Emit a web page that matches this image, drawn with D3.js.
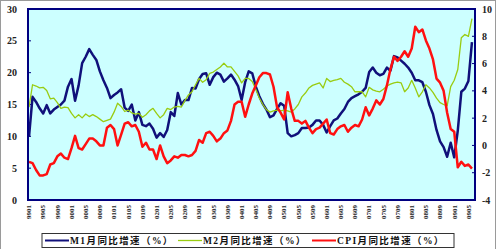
<!DOCTYPE html>
<html>
<head>
<meta charset="utf-8">
<script src="https://cdn.jsdelivr.net/npm/d3@7"></script>
<style>
  body { margin: 0; background: #fff; }
  svg { display: block; }
  .tick-l, .tick-r { font: bold 10px "Liberation Serif", "Times New Roman", serif; fill: #222; }
  .tick-x { font: bold 7px "Liberation Serif", "Times New Roman", serif; fill: #222; }
  .legend-text { font: bold 9.5px "Liberation Serif", "Noto Sans CJK SC", serif; fill: #111; letter-spacing: 1.4px; }
</style>
</head>
<body>
<svg width="500" height="249"></svg>
<script>
// M1 / M2 yoy growth (%), left axis; CPI yoy (%), right axis. 1999-01 .. 2009-06
const m1 = [
  9.9, 16.2, 15.4, 14.4, 13.6, 14.9, 13.6, 14.2, 14.6, 15.0, 15.6, 17.8,
  19.0, 15.6, 18.0, 21.5, 22.5, 23.7, 22.8, 22.0, 20.2, 18.8, 17.6, 16.0,
  16.5, 16.9, 17.4, 14.5, 14.0, 15.0, 12.5, 13.8, 11.8, 11.6, 12.0, 11.2,
  9.8, 10.5, 9.9, 11.0, 13.8, 13.2, 16.8, 15.0, 15.7, 15.7, 17.6, 17.5,
  19.0, 19.8, 19.9, 18.1, 19.3, 20.0, 19.7, 18.6, 19.1, 19.7, 18.9, 17.9,
  15.7, 18.5, 20.2, 19.9, 17.8, 16.3, 15.1, 14.2, 13.0, 13.3, 14.3, 15.2,
  14.8, 10.5, 10.0, 10.2, 10.5, 11.3, 11.3, 11.4, 11.8, 12.5, 12.5, 11.8,
  10.6, 11.6, 12.5, 12.8, 13.6, 14.3, 15.4, 16.0, 16.3, 16.6, 17.0, 17.6,
  20.1, 20.8, 20.0, 19.6, 19.8, 20.8, 20.3, 22.6, 22.4, 21.9, 21.4, 20.8,
  20.0, 18.8, 18.8, 18.5, 17.0, 14.9, 13.5, 11.0, 9.2, 8.3, 6.8, 9.0,
  6.7, 10.9, 17.0, 17.5, 18.7, 24.8
];
const m2 = [
  14.6, 18.1, 17.9, 17.6, 17.7, 17.2, 15.9, 16.0, 15.3, 14.4, 14.6, 14.5,
  13.6, 12.9, 13.4, 12.9, 13.5, 13.1, 13.4, 13.1, 12.7, 12.3, 12.5, 12.7,
  13.8, 15.2, 14.7, 13.9, 14.1, 13.7, 13.5, 13.6, 13.0, 13.4, 14.0, 14.4,
  13.6, 12.9, 13.4, 14.4, 14.2, 14.6, 14.7, 14.6, 15.6, 16.5, 17.0, 18.1,
  19.1, 18.5, 18.9, 19.9, 20.1, 20.5, 20.9, 21.5, 20.9, 20.9, 20.2, 19.5,
  18.4, 19.1, 19.1, 18.6, 17.4, 16.0, 15.0, 14.2, 13.8, 14.0, 14.1, 14.0,
  14.1, 14.0, 13.8, 14.3, 15.0, 16.2, 16.8, 17.6, 18.0, 18.2, 18.4, 17.6,
  19.1, 18.6, 18.8, 18.9, 19.1, 18.5, 18.2, 17.8, 17.0, 17.0, 17.0, 16.2,
  17.7, 17.3, 17.1, 17.0, 17.4, 17.9, 18.2, 18.4, 18.5, 18.4, 17.0, 17.6,
  18.8, 17.6, 16.2, 17.0, 18.1, 17.6, 16.9, 16.0, 15.3, 15.0, 14.8, 17.8,
  18.8, 20.5, 25.5, 26.0, 25.7, 28.5
];
const cpi = [
  -1.2, -1.3, -1.8, -2.2, -2.2, -2.1, -1.4, -1.3, -0.8, -0.6, -0.9, -1.0,
  -0.2, 0.7, -0.2, -0.3, 0.1, 0.5, 0.5, 0.3, 0.0, 0.0, 1.3, 1.5,
  1.2, 0.0, 0.8, 1.6, 1.7, 1.4, 1.5, 1.0, -0.1, 0.2, -0.3, -0.3,
  -1.0, 0.0, -0.8, -1.3, -1.1, -0.8, -0.9, -0.7, -0.7, -0.8, -0.7, -0.4,
  0.4, 0.2, 0.9, 1.0, 0.7, 0.3, 0.5, 0.9, 1.1, 1.8, 3.0, 3.2,
  3.2, 2.1, 3.0, 3.8, 4.4, 5.0, 5.3, 5.3, 5.2, 4.3, 2.8, 2.4,
  1.9, 3.9, 2.7, 1.8, 1.8, 1.6, 1.8, 1.3, 0.9, 1.2, 1.3, 1.6,
  1.9, 0.9, 0.8, 1.2, 1.4, 1.5, 1.0, 1.3, 1.5, 1.4, 1.9, 2.8,
  2.2, 2.7, 3.3, 3.0, 3.4, 4.4, 5.6, 6.5, 6.2, 6.5, 6.9, 6.5,
  7.1, 8.7, 8.3, 8.5, 7.7, 7.1, 6.3, 4.9, 4.6, 4.0, 2.4, 1.2,
  1.0, -1.6, -1.2, -1.5, -1.4, -1.7
];
const leftTicks = [0, 5, 10, 15, 20, 25, 30];
const rightTicks = [-4, -2, 0, 2, 4, 6, 8, 10];
const seriesNames = ['M1月同比增速（%）', 'M2月同比增速（%）', 'CPI月同比增速（%）'];
const colors = ['#10107a', '#99cc11', '#ff1010'];

// month labels 9901 ... 0906, one label every 4 months
const months = d3.timeMonth.range(new Date(1999, 0, 1), new Date(2009, 6, 1)).map(d3.timeFormat('%y%m'));

const svg = d3.select('svg');
const plot = { left: 28, right: 475, top: 9, bottom: 200 };

const x = d3.scaleLinear().domain([0, months.length]).range([plot.left + 1, plot.right + 0.5]);
const yL = d3.scaleLinear().domain([0, 30]).range([plot.bottom, plot.top]);
const yR = d3.scaleLinear().domain([-4, 10]).range([plot.bottom, plot.top]);

// outer chart frame
svg.append('rect')
    .attr('x', 0.5).attr('y', 0.5)
    .attr('width', 495).attr('height', 270)
    .attr('fill', 'none').attr('stroke', '#9a9a9a');

// plot area
svg.append('rect')
    .attr('x', plot.left).attr('y', plot.top)
    .attr('width', plot.right - plot.left).attr('height', plot.bottom - plot.top)
    .attr('fill', '#ccffff');

// left axis labels + inner ticks
svg.append('g').selectAll('text').data(leftTicks)
    .enter().append('text')
        .attr('class', 'tick-l')
        .attr('x', 17).attr('y', d => yL(d) + 3.5)
        .attr('text-anchor', 'end')
        .text(d => d);
svg.append('g').selectAll('line').data(leftTicks)
    .enter().append('line')
        .attr('x1', plot.left).attr('x2', plot.left + 3)
        .attr('y1', d => yL(d)).attr('y2', d => yL(d))
        .attr('stroke', '#000080');

// right axis labels + inner ticks
svg.append('g').selectAll('text').data(rightTicks)
    .enter().append('text')
        .attr('class', 'tick-r')
        .attr('x', 482).attr('y', d => yR(d) + 3.5)
        .text(d => d);
svg.append('g').selectAll('line').data(rightTicks)
    .enter().append('line')
        .attr('x1', plot.right - 3).attr('x2', plot.right)
        .attr('y1', d => yR(d)).attr('y2', d => yR(d))
        .attr('stroke', '#000080');

// x labels, rotated
svg.append('g').selectAll('text')
    .data(months.map((m, i) => ({ m, i })).filter(d => d.i % 4 === 0))
    .enter().append('text')
        .attr('class', 'tick-x')
        .attr('transform', d => `translate(${x(d.i) + 2.3}, 205) rotate(-90)`)
        .attr('text-anchor', 'end')
        .text(d => d.m);

// lines
const lineL = d3.line().x((d, i) => x(i)).y(d => yL(d));
const lineR = d3.line().x((d, i) => x(i)).y(d => yR(d));

svg.append('path').datum(m1)
    .attr('d', lineL).attr('fill', 'none')
    .attr('stroke', colors[0]).attr('stroke-width', 2.5).attr('stroke-linejoin', 'round');
svg.append('path').datum(m2)
    .attr('d', lineL).attr('fill', 'none')
    .attr('stroke', colors[1]).attr('stroke-width', 1.3).attr('stroke-linejoin', 'round');
svg.append('path').datum(cpi)
    .attr('d', lineR).attr('fill', 'none')
    .attr('stroke', colors[2]).attr('stroke-width', 2.5).attr('stroke-linejoin', 'round');

// plot border
svg.append('rect')
    .attr('x', plot.left).attr('y', plot.top)
    .attr('width', plot.right - plot.left).attr('height', plot.bottom - plot.top)
    .attr('fill', 'none').attr('stroke', '#000080').attr('stroke-width', 2);

// legend
const legend = svg.append('g');
legend.append('rect')
    .attr('x', 42).attr('y', 233.5).attr('width', 412).attr('height', 14)
    .attr('fill', '#fff').attr('stroke', '#333');
const legendX = [45, 178, 312];
seriesNames.forEach((name, k) => {
    legend.append('line')
        .attr('x1', legendX[k]).attr('x2', legendX[k] + 24)
        .attr('y1', 240.5).attr('y2', 240.5)
        .attr('stroke', colors[k]).attr('stroke-width', k === 1 ? 1.3 : 2);
    legend.append('text')
        .attr('class', 'legend-text')
        .attr('x', legendX[k] + 25).attr('y', 244)
        .text(name);
});
</script>
</body>
</html>
